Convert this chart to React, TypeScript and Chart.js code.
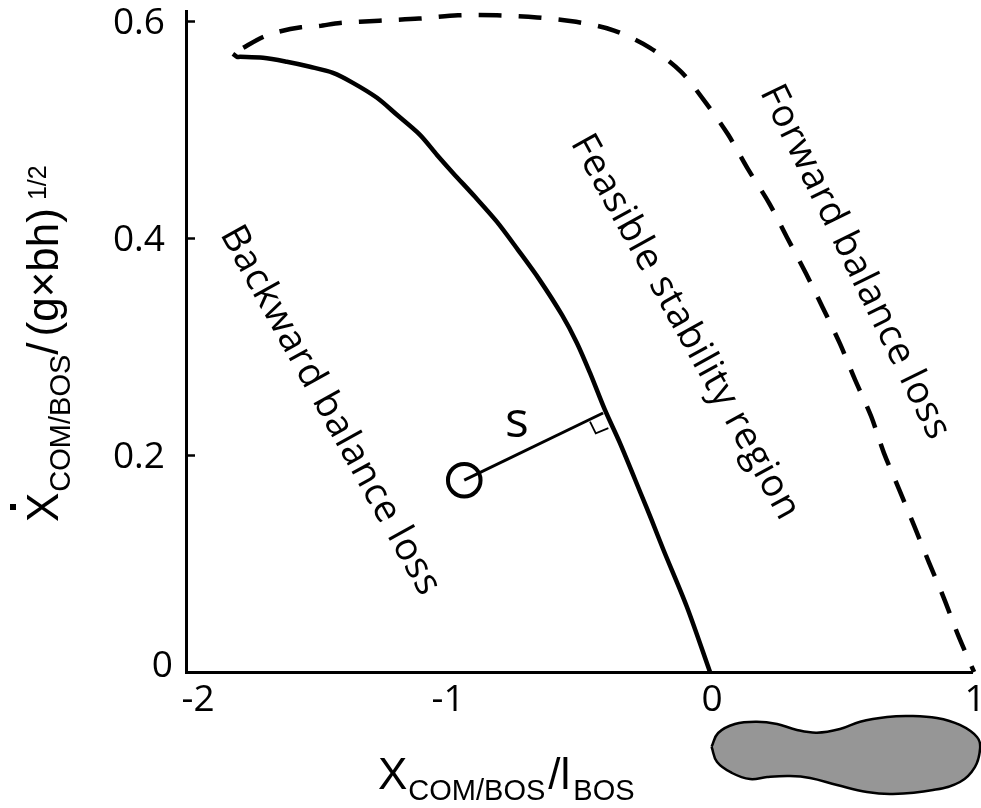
import React, { useEffect, useRef } from "react";
import { Chart, registerables } from "chart.js";

Chart.register(...registerables);

const xTickValues = [-2, -1, 0, 1];
const xTickLabels = ["-2", "-1", "0", "1"];
const yTickValues = [0, 0.2, 0.4, 0.6];
const yTickLabels = ["0", "0.2", "0.4", "0.6"];

const solidBoundaryX = [-1.821, -1.805, -1.794, -1.706, -1.615, -1.527, -1.439, -1.363, -1.271, -1.195, -1.107, -1.042, -0.981, -0.897, -0.813, -0.733, -0.653, -0.565, -0.508, -0.458, -0.401, -0.344, -0.265, -0.223, -0.1775, -0.088, 0];
const solidBoundaryY = [0.5705, 0.5677, 0.5677, 0.5668, 0.5631, 0.5585, 0.5529, 0.5437, 0.5299, 0.5142, 0.4957, 0.4772, 0.4606, 0.4385, 0.4154, 0.3896, 0.3628, 0.3295, 0.3037, 0.276, 0.2418, 0.2114, 0.1652, 0.1403, 0.1126, 0.06, 0];

const dashedBoundaryX = [-1.821, -1.782, -1.706, -1.645, -1.561, -1.496, -1.412, -1.263, -1.111, -0.962, -0.813, -0.66, -0.511, -0.366, -0.229, -0.111, -0.015, 0.069, 0.145, 0.225, 0.294, 0.366, 0.431, 0.496, 0.553, 0.615, 0.664, 0.721, 0.779, 0.836, 0.893, 0.947, 1.008];
const dashedBoundaryY = [0.5705, 0.576, 0.586, 0.591, 0.595, 0.596, 0.599, 0.601, 0.603, 0.606, 0.606, 0.604, 0.6, 0.592, 0.576, 0.554, 0.525, 0.496, 0.464, 0.433, 0.401, 0.368, 0.336, 0.303, 0.27, 0.236, 0.202, 0.169, 0.135, 0.101, 0.068, 0.034, 0];

const comPointX = [-0.938];
const comPointY = [0.177];
const sLineX = [-0.938, -0.408];
const sLineY = [0.177, 0.239];
const rightAngleX = [-0.458, -0.436, -0.388];
const rightAngleY = [0.2311, 0.2203, 0.225];

const footX = [0.006, 0.031, 0.095, 0.179, 0.256, 0.332, 0.408, 0.496, 0.573, 0.676, 0.763, 0.866, 0.954, 1.019, 1.031, 1.011, 0.954, 0.851, 0.698, 0.599, 0.485, 0.382, 0.305, 0.218, 0.153, 0.084, 0.027, 0.006];
const footY = [-0.069, -0.0563, -0.048, -0.0459, -0.048, -0.0535, -0.056, -0.0526, -0.0459, -0.0415, -0.0406, -0.0425, -0.0489, -0.06, -0.0702, -0.0877, -0.1015, -0.1089, -0.1126, -0.1108, -0.1043, -0.0978, -0.096, -0.0969, -0.0988, -0.0932, -0.0831, -0.069];

const regionLabels = ["Forward balance loss", "Feasible stability region", "Backward balance loss", "s"];
const regionLabelX = [0.553, -0.095, -1.45, -0.737];
const regionLabelY = [0.378, 0.318, 0.241, 0.23];
const regionLabelAngle = [64, 61, 61, 0];

const MAIN_FONT = '"Open Sans"';
const SUB_FONT = '"Liberation Sans"';

type Run = { text: string; size: number; family: string; shift: number; gap?: number };

const xTitleRuns: Run[] = [
  { text: "X", size: 44, family: SUB_FONT, shift: 0, gap: 1 },
  { text: "COM/BOS", size: 29, family: SUB_FONT, shift: 11, gap: 3 },
  { text: "/l", size: 44, family: SUB_FONT, shift: 0, gap: 3 },
  { text: "BOS", size: 29, family: SUB_FONT, shift: 11 },
];
const yTitleRuns: Run[] = [
  { text: "X", size: 44, family: SUB_FONT, shift: 0, gap: 1 },
  { text: "COM/BOS", size: 29, family: SUB_FONT, shift: 12 },
  { text: "/", size: 44, family: SUB_FONT, shift: 0, gap: 6 },
  { text: "(g×bh)", size: 44, family: SUB_FONT, shift: 0, gap: 8 },
  { text: "1/2", size: 25, family: SUB_FONT, shift: -12 },
];

function drawRuns(ctx: CanvasRenderingContext2D, runs: Run[]) {
  let x = 0;
  for (const r of runs) {
    ctx.font = `${r.size}px ${r.family}`;
    ctx.fillText(r.text, x, r.shift);
    x += ctx.measureText(r.text).width + (r.gap ?? 0);
  }
}

const zip = (xs: number[], ys: number[]) => xs.map((x, i) => ({ x, y: ys[i] }));

const nudges: Record<string, Record<string, [number, number]>> = {
  x: { "-2": [12, 0], "-1": [0, 0], "0": [2, 0], "1": [3, 0] },
  y: { "0": [8, -6], "0.2": [0, 2], "0.4": [0, 2], "0.6": [0, 2] },
};

const noPadding = (s: any) => {
  s.paddingLeft = 0;
  s.paddingRight = 0;
  s.paddingTop = 0;
  s.paddingBottom = 0;
};

const artPlugin = {
  id: "art",
  beforeDraw(chart: any) {
    for (const id of ["x", "y"]) {
      const scale = chart.scales[id];
      for (const item of scale.getLabelItems()) {
        if (item.__moved) continue;
        const n = nudges[id][String(item.label)];
        if (n) {
          item.options.translation[0] += n[0];
          item.options.translation[1] += n[1];
        }
        item.__moved = true;
      }
    }
  },
  beforeDatasetDraw(chart: any, args: any) {
    const ds = chart.data.datasets[args.index];
    if (ds.label !== "Foot") return;
    const ctx = chart.ctx;
    ctx.save();
    ctx.beginPath();
    args.meta.dataset.path(ctx);
    ctx.closePath();
    ctx.fillStyle = "#969696";
    ctx.fill();
    ctx.restore();
  },
  afterDraw(chart: any) {
    const ctx: any = chart.ctx;
    const { x: xs, y: ys } = chart.scales;
    ctx.save();
    ctx.fillStyle = "#000";
    ctx.textAlign = "center";
    ctx.textBaseline = "middle";
    regionLabels.forEach((label, i) => {
      ctx.save();
      ctx.translate(xs.getPixelForValue(regionLabelX[i]), ys.getPixelForValue(regionLabelY[i]));
      ctx.rotate((regionLabelAngle[i] * Math.PI) / 180);
      ctx.font = `${label === "s" ? 50 : 38}px ${MAIN_FONT}`;
      ctx.letterSpacing = label === "s" ? "0px" : "0.8px";
      ctx.fillText(label, 0, 0);
      ctx.restore();
    });
    ctx.textAlign = "left";
    ctx.textBaseline = "alphabetic";
    ctx.save();
    ctx.translate(378, 789);
    drawRuns(ctx, xTitleRuns);
    ctx.restore();
    ctx.save();
    ctx.translate(58, 522);
    ctx.rotate(-Math.PI / 2);
    drawRuns(ctx, yTitleRuns);
    ctx.restore();
    ctx.fillRect(10, 504, 6, 6);
    ctx.restore();
  },
};

export default function App() {
  const ref = useRef<HTMLCanvasElement>(null);
  useEffect(() => {
    const chart = new Chart(ref.current as HTMLCanvasElement, {
      type: "scatter",
      data: {
        datasets: [
          {
            label: "Foot",
            data: zip(footX, footY),
            showLine: true,
            borderColor: "#000",
            borderWidth: 2.5,
            pointRadius: 0,
            tension: 0.4,
            capBezierPoints: false,
            clip: false,
          },
          {
            label: "Backward boundary",
            data: zip(solidBoundaryX, solidBoundaryY),
            showLine: true,
            borderColor: "#000",
            borderWidth: 4.5,
            pointRadius: 0,
            tension: 0.3,
            capBezierPoints: false,
            clip: false,
          },
          {
            label: "Forward boundary",
            data: zip(dashedBoundaryX, dashedBoundaryY),
            showLine: true,
            borderColor: "#000",
            borderWidth: 4.5,
            borderDash: [23, 17],
            borderDashOffset: 28,
            pointRadius: 0,
            tension: 0.3,
            capBezierPoints: false,
            clip: false,
          },
          {
            label: "s",
            data: zip(sLineX, sLineY),
            showLine: true,
            borderColor: "#000",
            borderWidth: 3,
            pointRadius: 0,
          },
          {
            label: "Right angle",
            data: zip(rightAngleX, rightAngleY),
            showLine: true,
            borderColor: "#000",
            borderWidth: 1.8,
            pointRadius: 0,
          },
          {
            label: "COM",
            data: zip(comPointX, comPointY),
            showLine: false,
            pointRadius: 16.3,
            pointBorderWidth: 4,
            pointBorderColor: "#000",
            pointBackgroundColor: "rgba(0,0,0,0)",
          },
        ],
      },
      options: {
        animation: false,
        responsive: false,
        layout: { autoPadding: false, padding: { top: 11, right: 9, left: 0, bottom: 0 } },
        plugins: { legend: { display: false }, tooltip: { enabled: false } },
        scales: {
          x: {
            type: "linear",
            min: -2,
            max: 1,
            afterFit: (s: any) => {
              s.height = 136;
              noPadding(s);
            },
            afterBuildTicks: (s: any) => {
              s.ticks = xTickValues.map((value) => ({ value }));
            },
            grid: { drawOnChartArea: false, drawTicks: false },
            border: { color: "#000", width: 3 },
            ticks: {
              color: "#000",
              padding: 6,
              maxRotation: 0,
              autoSkip: false,
              font: { family: "Open Sans", size: 37 },
              callback: (v: any) => xTickLabels[xTickValues.indexOf(Number(v))] ?? "",
            },
          },
          y: {
            type: "linear",
            min: 0,
            max: 0.61,
            afterFit: (s: any) => {
              s.width = 186;
              noPadding(s);
            },
            afterBuildTicks: (s: any) => {
              s.ticks = yTickValues.map((value) => ({ value }));
            },
            grid: { drawOnChartArea: false, drawTicks: true, tickLength: -9, tickColor: "#000", tickWidth: 2.5 },
            border: { color: "#000", width: 3 },
            ticks: {
              color: "#000",
              padding: 30,
              autoSkip: false,
              font: { family: "Open Sans", size: 37 },
              callback: (v: any) => yTickLabels[yTickValues.indexOf(Number(v))] ?? "",
            },
          },
        },
      },
      plugins: [artPlugin],
    } as any);
    return () => chart.destroy();
  }, []);
  return (
    <div style={{ position: "absolute", left: 0, top: 0, width: 981, height: 808, background: "#fff" }}>
      <canvas ref={ref} width={981} height={808} style={{ display: "block" }} />
    </div>
  );
}
